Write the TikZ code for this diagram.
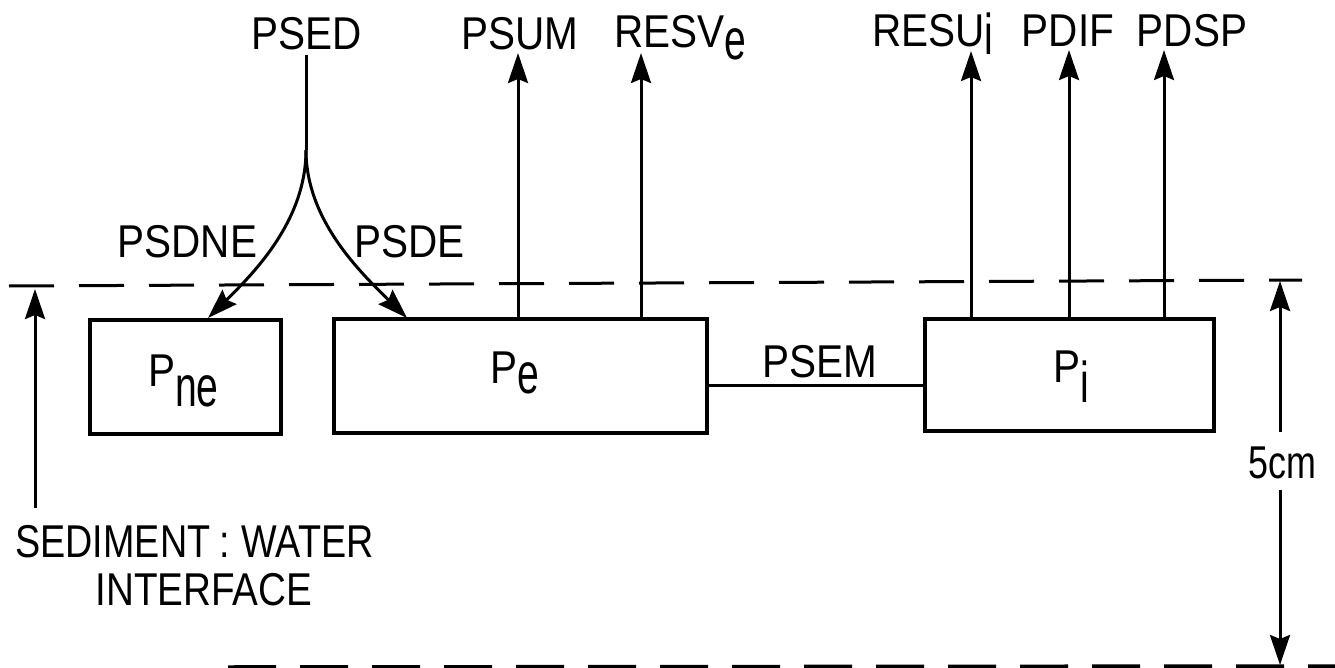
\documentclass[tikz,border=0pt]{standalone}
\usepackage{fontspec}
\setmainfont{Liberation Sans}
\usetikzlibrary{arrows.meta}
\newcommand\myx[2][0.88]{\scalebox{#1}[1]{#2}}
\newcommand\mysub[2]{\raisebox{-#1}{\scalebox{0.85}[1.25]{#2}}}
\tikzset{
  lbl/.style={font=\fontsize{46}{50}\selectfont, inner sep=0pt, anchor=base},
  compartment/.style={draw, line width=4.5pt, inner sep=0pt},
  flow/.style={line width=3pt, -{Stealth[length=30pt,width=20pt,inset=4pt]}},
  plainline/.style={line width=3pt},
  level/.style={line width=3pt, dash pattern=on 45pt off 25pt},
}
\begin{document}
\begin{tikzpicture}[x=1pt,y=-1pt]
\useasboundingbox (0,0) rectangle (1335,668);
% compartments
\node[compartment, minimum width=191pt, minimum height=114pt] (pne) at (185.5,377) {};
\node[compartment, minimum width=373pt, minimum height=114pt] (pe) at (520.5,376) {};
\node[compartment, minimum width=289pt, minimum height=112pt] (pi) at (1069.5,375) {};
% compartment labels
\node[lbl] (pnel) at (183.5,386) {\myx{P}\mysub{20pt}{ne}};
\node[lbl] (pel) at (514.5,383) {\myx{P}\mysub{10pt}{e}};
\node[lbl] (pil) at (1071,382) {\myx{P}\mysub{20pt}{i}};
% flux labels
\node[lbl] (psed) at (307,50) {\myx{PSED}};
\node[lbl] (psum) at (520,50) {\myx{PSUM}};
\node[lbl] (resve) at (680,48) {\myx{RESV}\mysub{12pt}{e}};
\node[lbl] (resui) at (933,47) {\myx{RESU}\mysub{8pt}{i}};
\node[lbl] (pdif) at (1068,47) {\myx{PDIF}};
\node[lbl] (pdsp) at (1192,47) {\myx{PDSP}};
\node[lbl] (psdne) at (187.5,258) {\myx{PSDNE}};
\node[lbl] (psde) at (409.5,258) {\myx{PSDE}};
\node[lbl] (psem) at (820,377) {\myx{PSEM}};
\node[lbl] (dim) at (1282,478) {\myx[0.78]{5cm}};
\node[lbl] (swi) at (194.5,557) {\myx[0.82]{SEDIMENT\hspace{0.25em}:\hspace{0.3em}WATER}};
\node[lbl] (intf) at (204,605) {\myx[0.84]{INTERFACE}};
% coordinates
\coordinate (psedfoot) at (306,55);
\coordinate (split) at (306,150);
\coordinate (pnetip) at (208,318);
\coordinate (petip) at (407,318);
\coordinate (psumtip) at (518,53);
\coordinate (resvtip) at (641,53);
\coordinate (resutip) at (971,51);
\coordinate (pdiftip) at (1069,50);
\coordinate (pdsptip) at (1164,50);
\coordinate (psemy) at (800,385);
\coordinate (swbase) at (35,508);
\coordinate (swtip) at (35,289);
\coordinate (dimtop) at (1280,281);
\coordinate (dimup) at (1280,432);
\coordinate (dimdown) at (1280,490);
\coordinate (dimbot) at (1280,665);
\coordinate (topl) at (9,286);
\coordinate (topr) at (1302,280);
\coordinate (botl) at (228,667);
\coordinate (botr) at (1335,666);
% sediment input
\draw[plainline] (psedfoot) -- (split);
\draw[flow] (split) .. controls (306,220) and (255,272) .. (pnetip);
\draw[flow] (split) .. controls (306,220) and (360,272) .. (petip);
% outputs
\draw[flow] (pe.north -| psumtip) -- (psumtip);
\draw[flow] (pe.north -| resvtip) -- (resvtip);
\draw[flow] (pi.north -| resutip) -- (resutip);
\draw[flow] (pi.north -| pdiftip) -- (pdiftip);
\draw[flow] (pi.north -| pdsptip) -- (pdsptip);
% exchange
\draw[plainline] (pe.east |- psemy) -- (pi.west |- psemy);
% levels
\draw[level] (topl) -- (topr);
\draw[level, line width=3.5pt, dash pattern=on 48pt off 24pt] (botl) -- (botr);
% interface arrow and dimension
\draw[flow] (swbase) -- (swtip);
\draw[flow] (dimup) -- (dimtop);
\draw[flow] (dimdown) -- (dimbot);
\end{tikzpicture}
\end{document}
